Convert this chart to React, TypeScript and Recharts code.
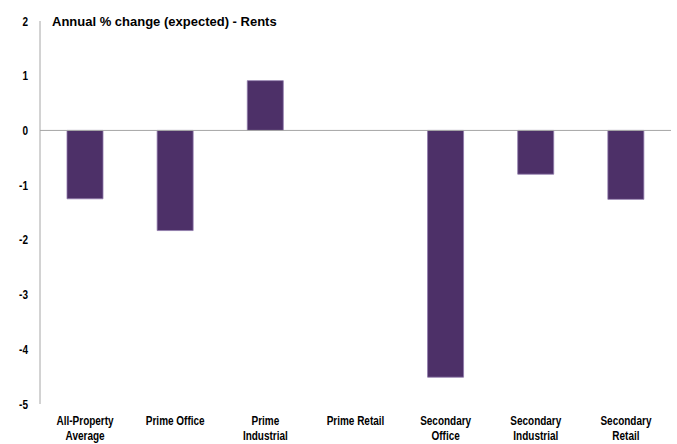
import { BarChart, Bar, XAxis, YAxis, ReferenceLine } from 'recharts';

// Annual % change (expected) in rents by property segment
const categories = [
  'All-Property\nAverage',
  'Prime Office',
  'Prime\nIndustrial',
  'Prime Retail',
  'Secondary\nOffice',
  'Secondary\nIndustrial',
  'Secondary\nRetail',
];
const rents = [-1.25, -1.83, 0.91, 0, -4.51, -0.8, -1.26];
const yTicks = [-5, -4, -3, -2, -1, 0, 1, 2];

const data = categories.map((name, i) => ({ name, value: rents[i] }));

const FONT = '"Liberation Sans", Arial, sans-serif';
// labels in the original use a narrow bold face; squeeze the regular one
const NARROW = 0.8;

const CategoryTick = ({ x, y, payload }: any) => {
  const lines = String(payload.value).split('\n');
  return (
    <text
      transform={`translate(${x},${y}) scale(${NARROW},1)`}
      textAnchor="middle"
      fontFamily={FONT}
      fontWeight="bold"
      fontSize={12.5}
      fill="#000"
    >
      {lines.map((line, i) => (
        <tspan key={i} x={0} dy={i === 0 ? 13.5 : 15}>
          {line}
        </tspan>
      ))}
    </text>
  );
};

const ValueTick = ({ x, y, payload }: any) => (
  <text
    transform={`translate(${x},${y}) scale(${NARROW},1)`}
    textAnchor="end"
    dy={4.5}
    fontFamily={FONT}
    fontWeight="bold"
    fontSize={12.5}
    fill="#000"
  >
    {payload.value}
  </text>
);

export default function App() {
  return (
    <div style={{ position: 'absolute', left: 0, top: 0, width: 677, height: 444, background: '#fff' }}>
      <div
        style={{
          position: 'absolute',
          left: 52,
          top: 14,
          fontFamily: FONT,
          fontWeight: 'bold',
          fontSize: 13,
          color: '#000',
          zIndex: 1,
        }}
      >
        Annual % change (expected) - Rents
      </div>
      <BarChart
        width={677}
        height={444}
        data={data}
        margin={{ top: 21, right: 6, left: 0, bottom: 10 }}
      >
        <YAxis
          domain={[-5, 2]}
          ticks={yTicks}
          interval={0}
          width={40}
          axisLine={{ stroke: '#a6a6a6' }}
          tickLine={false}
          tickMargin={6}
          tick={<ValueTick />}
        />
        <XAxis
          dataKey="name"
          axisLine={false}
          tickLine={false}
          interval={0}
          height={30}
          tick={<CategoryTick />}
        />
        <ReferenceLine y={0} stroke="#a6a6a6" strokeWidth={1} />
        <Bar
          dataKey="value"
          fill="#4d3068"
          stroke="#8f7aab"
          strokeWidth={0.8}
          barSize={36}
          isAnimationActive={false}
        />
      </BarChart>
    </div>
  );
}
